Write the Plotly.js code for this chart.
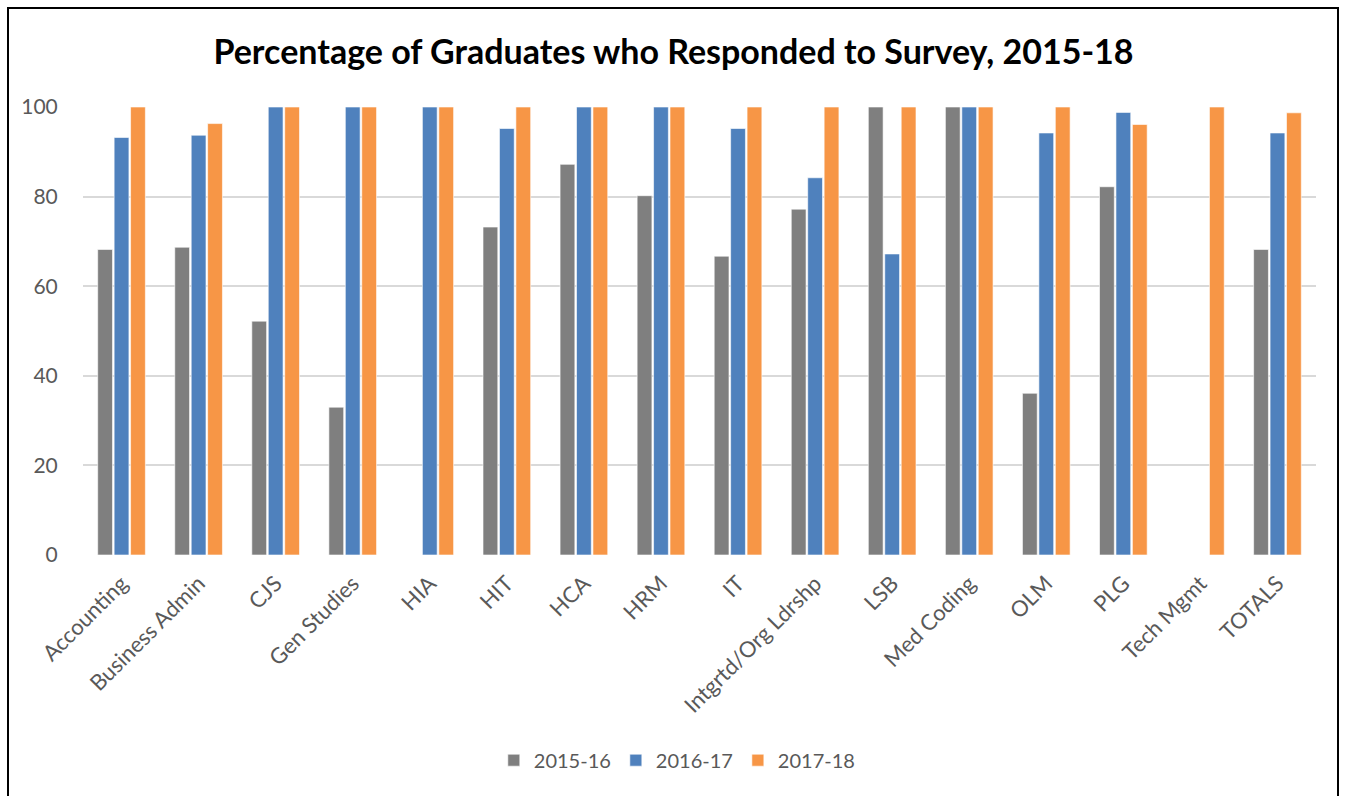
<!DOCTYPE html>
<html>
<head>
<meta charset="utf-8">
<script src="https://cdn.plot.ly/plotly-3.0.1.min.js"></script>
<style>
html,body{margin:0;padding:0;background:#fff;overflow:hidden;}
#frame{position:absolute;left:7px;top:7px;width:1332px;height:800px;border:2px solid #000;box-sizing:border-box;}
#chart{position:absolute;left:0;top:0;width:1347px;height:796px;}
</style>
</head>
<body>
<div id="frame"></div>
<div id="chart"></div>
<script>
const categories = ["Accounting","Business Admin","CJS","Gen Studies","HIA","HIT","HCA","HRM","IT","Intgrtd/Org Ldrshp","LSB","Med Coding","OLM","PLG","Tech Mgmt","TOTALS"];
const seriesNames = ["2015-16","2016-17","2017-18"];
const values2015 = [68.2, 68.7, 52.2, 33.0, null, 73.2, 87.2, 80.2, 66.7, 77.2, 100, 100, 36.1, 82.2, null, 68.2];
const values2016 = [93.2, 93.7, 100, 100, 100, 95.2, 100, 100, 95.2, 84.2, 67.2, 100, 94.2, 98.8, null, 94.2];
const values2017 = [100, 96.3, 100, 100, 100, 100, 100, 100, 100, 100, 100, 100, 100, 96.1, 100, 98.7];
const colors = ["#7f7f7f", "#4f81bd", "#f79646"];
const yTicks = [0, 20, 40, 60, 80, 100];

const font = "Lato, 'Open Sans', sans-serif";
const data = [values2015, values2016, values2017].map((v, i) => ({
  type: "bar",
  name: seriesNames[i],
  x: categories,
  y: v,
  marker: {color: colors[i], line: {color: "rgba(255,255,255,0.6)", width: 1}},
  hoverinfo: "x+y+name"
}));

const layout = {
  width: 1347, height: 796,
  margin: {l: 83, r: 31, t: 107, b: 241},
  paper_bgcolor: "rgba(0,0,0,0)",
  plot_bgcolor: "rgba(0,0,0,0)",
  barmode: "group",
  bargap: 0.36,
  bargroupgap: 0.1,
  title: {
    text: "<b>Percentage of Graduates who Responded to Survey, 2015-18</b>",
    font: {family: font, size: 34, color: "#000"},
    x: 0.5, xanchor: "center", y: 0.935, yanchor: "middle"
  },
  xaxis: {
    tickangle: -45,
    tickfont: {family: font, size: 22, color: "#595959"},
    showgrid: false, zeroline: false, showline: false,
    ticks: "outside", ticklen: 6, tickcolor: "rgba(0,0,0,0)"
  },
  yaxis: {
    range: [0, 100],
    tickvals: yTicks,
    ticktext: yTicks.map(String),
    tickfont: {family: font, size: 21, color: "#595959"},
    gridcolor: "#d9d9d9", gridwidth: 1.5,
    zeroline: false, showline: false,
    ticks: "outside", ticklen: 20, tickcolor: "rgba(0,0,0,0)",
    automargin: false
  },
  legend: {
    orientation: "h",
    x: 0.482, xanchor: "center",
    y: -0.458, yanchor: "middle",
    font: {family: font, size: 20, color: "#595959"},
    itemwidth: 30,
    traceorder: "normal"
  },
  showlegend: true
};

Plotly.newPlot("chart", data, layout, {displayModeBar: false, staticPlot: false});
</script>
</body>
</html>
